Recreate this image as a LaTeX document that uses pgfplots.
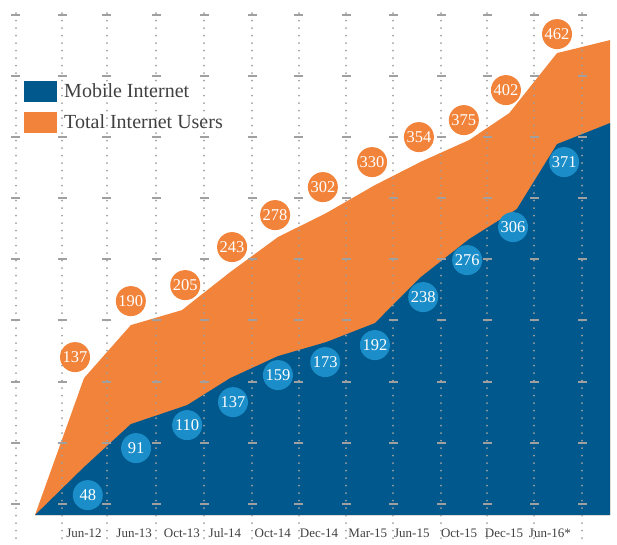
\documentclass[border=0pt]{standalone}
\usepackage{fontspec}
\setmainfont{Liberation Serif}
\usepackage{pgfplots}
\pgfplotsset{compat=1.18}
\definecolor{mobblue}{RGB}{0,88,140}
\definecolor{totorange}{RGB}{241,131,58}
\definecolor{lblue}{RGB}{27,141,200}
\definecolor{gridgray}{RGB}{160,160,160}
\definecolor{txtgray}{RGB}{64,64,64}
\begin{document}
\begin{tikzpicture}
\begin{axis}[
  width=617pt, height=544pt, scale only axis,
  xmin=-1.776, xmax=11.268, ymin=-29, ymax=515,
  axis line style={draw=none},
  major tick length=0pt,
  ytick=\empty,
  xtick={0,1.06,2.07,2.98,3.99,4.97,6.0,6.93,7.93,8.88,9.85},
  xticklabels={Jun-12,Jun-13,Oct-13,Jul-14,Oct-14,Dec-14,Mar-15,Jun-15,Oct-15,Dec-15,Jun-16*},
  xticklabel style={anchor=base, yshift=7pt, font=\fontsize{13}{15}\selectfont, text=txtgray},
  reverse legend,
  legend image code/.code={\fill[#1] (0pt,-10.5pt) rectangle (33pt,10.5pt);},
  legend style={at={(axis cs:-1.268,434)}, anchor=north west, draw=none, fill=none,
    inner sep=0pt, row sep=10pt, column sep=5pt, font=\fontsize{20}{23}\selectfont, text=txtgray,
    cells={anchor=west}},
  legend cell align=left,
]
% Total Internet Users (orange area)
\addplot[fill=totorange, draw=none] coordinates {
  (-1.036,0) (0,137) (0.99,190) (2.07,205) (3.09,243) (4.10,278) (5.12,302)
  (6.15,330) (7.15,354) (8.14,375) (8.99,402) (10,462) (11.12,475) (11.12,0)} \closedcycle;
\addlegendentry{Total Internet Users}
% Mobile Internet (blue area)
\addplot[fill=mobblue, draw=none] coordinates {
  (-1.036,0) (0,48) (0.99,91) (2.18,110) (3.09,137) (4.10,159) (5.12,173)
  (6.15,192) (7.12,238) (8.14,276) (9.15,306) (10,371) (11.12,392) (11.12,0)} \closedcycle;
\addlegendentry{Mobile Internet}
% dotted grid with dashes
\pgfplotsinvokeforeach{-1.438,-0.465,0.486,1.522,2.537,3.552,4.545,5.539,6.533,7.548,8.520,9.514,10.529}{
  \addplot[forget plot, gridgray, line width=2.1pt, line cap=round, dash pattern=on 0pt off 7.5pt]
    coordinates {(#1,502) (#1,-29)};
  \addplot[forget plot, only marks, mark=-, mark size=4.5pt, gridgray, mark options={line width=1.5pt, solid}]
    coordinates {(#1,500) (#1,439) (#1,378) (#1,317) (#1,256) (#1,195) (#1,133) (#1,72) (#1,11)};
}
% labels: total
\addplot[forget plot, draw=none, mark=none, point meta=explicit symbolic,
  nodes near coords, nodes near coords align=center,
  nodes near coords style={circle, fill=totorange, text=white, inner sep=0pt, minimum size=30pt,
    anchor=center, font=\fontsize{16.5}{18}\selectfont}]
  coordinates {(-0.19,158) [137] (0.99,214) [190] (2.14,230) [205] (3.13,268) [243]
    (4.04,300) [278] (5.05,328) [302] (6.09,353) [330] (7.08,378) [354]
    (8.03,395) [375] (8.92,425) [402] (10.0,481) [462]};
% labels: mobile
\addplot[forget plot, draw=none, mark=none, point meta=explicit symbolic,
  nodes near coords, nodes near coords align=center,
  nodes near coords style={circle, fill=lblue, text=white, inner sep=0pt, minimum size=30pt,
    anchor=center, font=\fontsize{16.5}{18}\selectfont}]
  coordinates {(0.08,20) [48] (1.10,67) [91] (2.18,90) [110] (3.15,113) [137]
    (4.10,140) [159] (5.10,153) [173] (6.15,170) [192] (7.17,218) [238]
    (8.10,255) [276] (9.07,288) [306] (10.15,353) [371]};
\end{axis}
\end{tikzpicture}
\end{document}
